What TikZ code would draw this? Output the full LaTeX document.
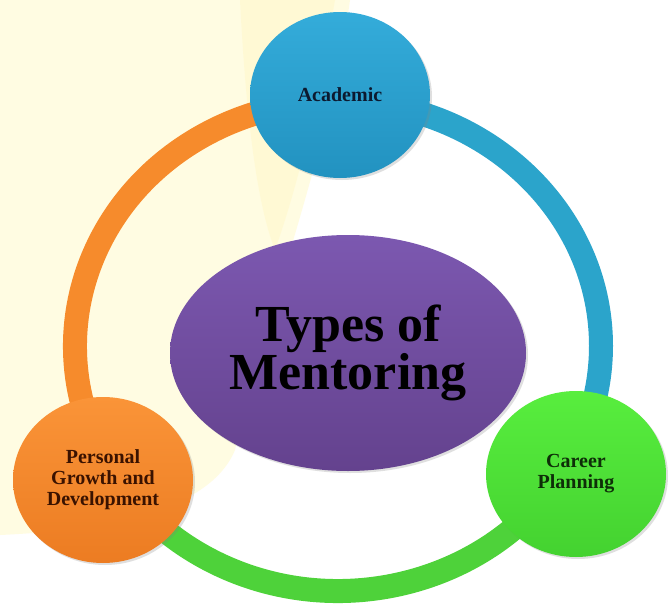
\documentclass[tikz,border=0pt]{standalone}
\usepackage{fontspec}
\setmainfont{Liberation Serif}
\usetikzlibrary{shapes,shadows}
\definecolor{paper}{RGB}{255,252,226}
\definecolor{paperdeep}{RGB}{255,248,200}
\definecolor{acadtop}{RGB}{52,172,218}
\definecolor{acadbot}{RGB}{34,146,192}
\definecolor{perstop}{RGB}{250,148,56}
\definecolor{persbot}{RGB}{236,124,34}
\definecolor{cartop}{RGB}{88,238,62}
\definecolor{carbot}{RGB}{68,210,48}
\definecolor{hubtop}{RGB}{124,88,176}
\definecolor{hubbot}{RGB}{100,66,142}
\definecolor{orangering}{RGB}{246,139,44}
\definecolor{bluering}{RGB}{43,164,203}
\definecolor{greenring}{RGB}{78,210,58}
\newcommand{\ringw}{24pt}
\tikzset{
  hub/.style={ellipse, minimum width=356pt, minimum height=236pt, inner sep=0pt,
    top color=hubtop, bottom color=hubbot, text=black, align=center,
    font=\bfseries\fontsize{52}{48}\selectfont,
    drop shadow={opacity=0.25, shadow xshift=2pt, shadow yshift=-2pt}},
  spoke/.style={ellipse, minimum width=180pt, minimum height=166pt, inner sep=0pt,
    align=center, font=\bfseries\fontsize{20}{21}\selectfont,
    drop shadow={opacity=0.25, shadow xshift=2pt, shadow yshift=-2pt}},
  ringarc/.style={line width=\ringw}
}

\begin{document}
\begin{tikzpicture}[x=1pt,y=-1pt]
  \useasboundingbox (0,0) rectangle (670,608);
  % background
  \fill[white] (0,0) rectangle (670,608);
  \fill[paper] (0,0) -- (350,0) .. controls (330,150) and (260,330) .. (235,450)
    .. controls (210,510) and (110,530) .. (0,535) -- cycle;
  \fill[paperdeep, opacity=0.5] (240,0) -- (335,0) .. controls (320,90) and (300,180) .. (275,250)
    .. controls (255,200) and (245,100) .. cycle;
  % ring
  \coordinate (ring) at (338,346);
  \draw[ringarc, orangering] (ring) ++(150:263 and 245) arc[start angle=150, end angle=270, x radius=263, y radius=245];
  \draw[ringarc, bluering] (ring) ++(270:263 and 245) arc[start angle=270, end angle=390, x radius=263, y radius=245];
  \draw[ringarc, greenring] (ring) ++(30:263 and 245) arc[start angle=30, end angle=150, x radius=263, y radius=245];
  % nodes
  \node[hub] (types) at (348,353) {Types of\\Mentoring};
  \node[spoke, top color=acadtop, bottom color=acadbot, text={rgb,255:red,12;green,26;blue,48}] (acad) at (340,95) {Academic};
  \node[spoke, top color=perstop, bottom color=persbot, text={rgb,255:red,58;green,18;blue,0}] (pers) at (103,480) {Personal\\Growth and\\Development};
  \node[spoke, top color=cartop, bottom color=carbot, text={rgb,255:red,14;green,46;blue,8}] (car) at (576,474) {Career\\Planning};
\end{tikzpicture}
\end{document}
